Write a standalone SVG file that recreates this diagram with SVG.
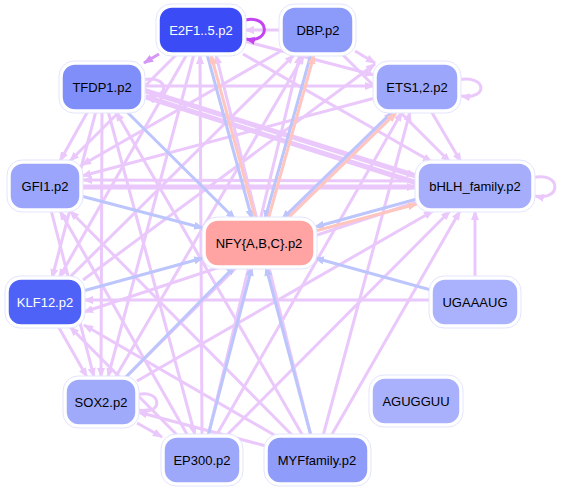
<svg xmlns="http://www.w3.org/2000/svg" width="561" height="489" viewBox="0 0 561 489">
<defs>
<marker id="mp" viewBox="0 0 10 8" refX="9" refY="4" markerWidth="10" markerHeight="8" markerUnits="userSpaceOnUse" orient="auto"><path d="M0,0 L10,4 L0,8 z" fill="#eac8fb"/></marker>
<marker id="mm" viewBox="0 0 10 8" refX="9" refY="4" markerWidth="10" markerHeight="8" markerUnits="userSpaceOnUse" orient="auto"><path d="M0,0 L10,4 L0,8 z" fill="#d696f8"/></marker>
<marker id="md" viewBox="0 0 10 8" refX="9" refY="4" markerWidth="10" markerHeight="8" markerUnits="userSpaceOnUse" orient="auto"><path d="M0,0 L10,4 L0,8 z" fill="#c444f2"/></marker>
<marker id="mb" viewBox="0 0 10 8" refX="9" refY="4" markerWidth="10" markerHeight="8" markerUnits="userSpaceOnUse" orient="auto"><path d="M0,0 L10,4 L0,8 z" fill="#bcc5fc"/></marker>
<marker id="ms" viewBox="0 0 10 8" refX="9" refY="4" markerWidth="10" markerHeight="8" markerUnits="userSpaceOnUse" orient="auto"><path d="M0,0 L10,4 L0,8 z" fill="#ffc6bf"/></marker>
</defs>
<style>
.p{stroke:#eac8fb;stroke-width:3;fill:none;marker-end:url(#mp)}
.pt{stroke:#eac8fb;stroke-width:5;fill:none;marker-end:url(#mp)}
.m{stroke:#d696f8;stroke-width:3;fill:none;marker-end:url(#mm)}
.d{stroke:#c444f2;stroke-width:3;fill:none;marker-end:url(#md)}
.b{stroke:#bcc5fc;stroke-width:3;fill:none;marker-end:url(#mb)}
.s{stroke:#ffc6bf;stroke-width:3;fill:none;marker-end:url(#ms)}
.halo{fill:#fff;stroke:#e2e5fd;stroke-width:1}
.box{stroke:#fff;stroke-width:1.5}
text{font-family:"Liberation Sans",Arial,sans-serif;font-size:13px;text-anchor:middle}
.w{fill:#fff}
.k{fill:#000}
</style>
<rect width="561" height="489" fill="#fff"/>
<g id="edges">
<path class="p" d="M281,30 L245,30"/>
<path class="p" d="M143,80 C170,74 170,100 146,96"/>
<path class="p" d="M458,80 C487,74 489,100 461,96"/>
<path class="p" d="M532,178 C562,170 562,202 535,196"/>
<path class="p" d="M137,395 C162,388 164,416 139,410"/>
<path class="pt" d="M143,90 L416,176"/>
<path class="pt" d="M417,183 L146,97"/>
<path class="pt" d="M81,187 L416,187"/>
<path class="p" d="M417,181 L83,180"/>
<path class="p" d="M143,86 L374,86"/>
<path class="m" d="M159,54 L144,63"/>
<path class="p" d="M243,54 L432,162"/>
<path class="p" d="M342,54 L450,162"/>
<path class="p" d="M431,111 L461,162"/>
<path class="p" d="M355,51 L375,63"/>
<path class="p" d="M244,41 L374,75"/>
<path class="p" d="M187,54 L59,278"/>
<path class="p" d="M96,111 L52,278"/>
<path class="p" d="M88,111 L60,161"/>
<path class="p" d="M375,98 L82,176"/>
<path class="p" d="M281,51 L82,165"/>
<path class="p" d="M102,111 L101,377"/>
<path class="p" d="M194,54 L108,377"/>
<path class="p" d="M202,436 L200,55"/>
<path class="p" d="M311,436 L216,55"/>
<path class="p" d="M303,436 L116,112"/>
<path class="p" d="M293,436 L70,211"/>
<path class="p" d="M276,436 L84,325"/>
<path class="p" d="M266,446 L138,412"/>
<path class="p" d="M323,436 L410,112"/>
<path class="p" d="M331,436 L460,211"/>
<path class="p" d="M208,436 L300,55"/>
<path class="p" d="M216,436 L402,112"/>
<path class="p" d="M226,436 L450,211"/>
<path class="p" d="M115,378 L304,55"/>
<path class="p" d="M137,381 L433,211"/>
<path class="p" d="M137,423 L162,437"/>
<path class="p" d="M188,436 L60,211"/>
<path class="p" d="M178,436 L70,327"/>
<path class="p" d="M431,300 L84,300"/>
<path class="p" d="M475,278 L475,211"/>
<path class="p" d="M69,278 L294,55"/>
<path class="p" d="M83,280 L375,64"/>
<path class="p" d="M108,111 L195,435"/>
<path class="p" d="M177,54 L70,161"/>
<path class="p" d="M417,202 L84,312"/>
<path class="p" d="M125,378 L393,112"/>
<path class="p" d="M51,210 L94,377"/>
<path class="p" d="M58,326 L87,377"/>
<path class="d" d="M242,21 C270,12 272,44 246,39"/>
<path class="b" d="M126,111 L235,219"/>
<path class="b" d="M81,196 L203,228"/>
<path class="b" d="M83,291 L203,258"/>
<path class="b" d="M125,378 L235,266"/>
<path class="b" d="M208,436 L252,267"/>
<path class="b" d="M311,436 L266,267"/>
<path class="b" d="M431,290 L315,258"/>
<path class="b" d="M393,111 L282,219"/>
<path class="s" d="M285,221 L396,113"/>
<path class="b" d="M417,199 L315,227"/>
<path class="s" d="M315,231 L417,204"/>
<path class="b" d="M311,54 L265,219"/>
<path class="s" d="M268,220 L314,55"/>
<path class="b" d="M207,54 L252,219"/>
<path class="s" d="M256,220 L211,55"/>
</g>
<g id="E2F1">
<rect class="halo" x="156" y="4" width="90" height="52" rx="15"/>
<rect class="box" x="159" y="7" width="84" height="46" rx="13" fill="#3b4cf6"/>
<text class="w" x="201" y="34.5">E2F1..5.p2</text>
</g>
<g id="DBP">
<rect class="halo" x="279" y="4" width="77" height="52" rx="15"/>
<rect class="box" x="282" y="7" width="71" height="46" rx="13" fill="#8c9bfa"/>
<text class="k" x="318" y="34.5">DBP.p2</text>
</g>
<g id="TFDP1">
<rect class="halo" x="59" y="61" width="86" height="52" rx="15"/>
<rect class="box" x="62" y="64" width="80" height="46" rx="13" fill="#7f8ef8"/>
<text class="k" x="102" y="91.5">TFDP1.p2</text>
</g>
<g id="ETS">
<rect class="halo" x="373" y="61" width="88" height="52" rx="15"/>
<rect class="box" x="376" y="64" width="82" height="46" rx="13" fill="#9ca7fb"/>
<text class="k" x="417" y="91.5">ETS1,2.p2</text>
</g>
<g id="GFI1">
<rect class="halo" x="7" y="160" width="76" height="52" rx="15"/>
<rect class="box" x="10" y="163" width="70" height="46" rx="13" fill="#9aa5fb"/>
<text class="k" x="45" y="190.5">GFI1.p2</text>
</g>
<g id="bHLH">
<rect class="halo" x="415" y="160" width="120" height="52" rx="15"/>
<rect class="box" x="418" y="163" width="114" height="46" rx="13" fill="#a6aefc"/>
<text class="k" x="475" y="190.5">bHLH_family.p2</text>
</g>
<g id="NFY">
<rect class="halo" x="202" y="217" width="115" height="52" rx="15" stroke="#fde0e0"/>
<rect class="box" x="205" y="220" width="109" height="46" rx="13" fill="#ffa3a3"/>
<text class="k" x="259" y="247.5">NFY{A,B,C}.p2</text>
</g>
<g id="KLF12">
<rect class="halo" x="5" y="276" width="80" height="52" rx="15"/>
<rect class="box" x="8" y="279" width="74" height="46" rx="13" fill="#4f62f7"/>
<text class="w" x="45" y="306.5">KLF12.p2</text>
</g>
<g id="UGAAAUG">
<rect class="halo" x="429" y="276" width="92" height="52" rx="15"/>
<rect class="box" x="432" y="279" width="86" height="46" rx="13" fill="#aab2fd"/>
<text class="k" x="475" y="306.5">UGAAAUG</text>
</g>
<g id="SOX2">
<rect class="halo" x="63" y="376" width="76" height="52" rx="15"/>
<rect class="box" x="66" y="379" width="70" height="46" rx="13" fill="#a0aafb"/>
<text class="k" x="101" y="406.5">SOX2.p2</text>
</g>
<g id="AGUGGUU">
<rect class="halo" x="369" y="375" width="94" height="52" rx="15"/>
<rect class="box" x="372" y="378" width="88" height="46" rx="13" fill="#a9b1fc"/>
<text class="k" x="416" y="405.5">AGUGGUU</text>
</g>
<g id="EP300">
<rect class="halo" x="161" y="434" width="82" height="52" rx="15"/>
<rect class="box" x="164" y="437" width="76" height="46" rx="13" fill="#9ea8fb"/>
<text class="k" x="202" y="464.5">EP300.p2</text>
</g>
<g id="MYFfamily">
<rect class="halo" x="264" y="434" width="107" height="52" rx="15"/>
<rect class="box" x="267" y="437" width="101" height="46" rx="13" fill="#8f9cf9"/>
<text class="k" x="317" y="464.5">MYFfamily.p2</text>
</g>
</svg>
